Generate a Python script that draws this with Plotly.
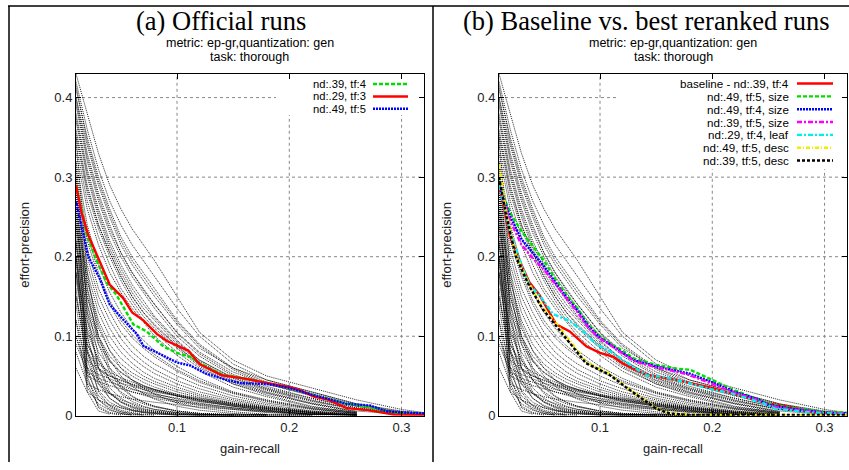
import plotly.graph_objects as go

W, H = 849, 470

# ---------------- data ----------------
x_ticks = [0.1, 0.2, 0.3]
x_tick_labels = ["0.1", "0.2", "0.3"]
y_ticks = [0, 0.1, 0.2, 0.3, 0.4]
y_tick_labels = ["0", "0.1", "0.2", "0.3", "0.4"]
x_range = [0.01, 0.32]
y_range = [0, 0.43]

# common gain-recall sampling points of the official (background) runs
recall_grid = [0.01, 0.02, 0.03, 0.04, 0.05, 0.06, 0.07, 0.08, 0.10, 0.12, 0.15, 0.18, 0.22, 0.26, 0.30, 0.32]

# effort-precision of the official runs
official_runs = [
    [0.43, 0.38, 0.33, 0.29, 0.26, 0.235, 0.215, 0.195, 0.15, 0.105, 0.07, 0.05, 0.035, 0.02, 0.008, 0.004],
    [0.42, 0.36, 0.31, 0.27, 0.24, 0.215, 0.195, 0.175, 0.135, 0.10, 0.065, 0.045, 0.03, 0.015, 0.006, 0.003],
    [0.415, 0.345, 0.295, 0.255, 0.22, 0.195, 0.175, 0.155, 0.118, 0.088, 0.058, 0.04, 0.026, 0.012, 0.004, 0.002],
    [0.41, 0.35, 0.30, 0.26, 0.225, 0.20, 0.18, 0.16, 0.12, 0.09, 0.06, 0.045, 0.03, 0.015, 0.005, 0.003],
    [0.40, 0.34, 0.29, 0.25, 0.215, 0.19, 0.17, 0.15, 0.115, 0.085, 0.06, 0.042, 0.028, 0.014, 0.004, 0.002],
    [0.40, 0.33, 0.28, 0.24, 0.205, 0.18, 0.16, 0.14, 0.105, 0.08, 0.055, 0.04, 0.025, 0.012, 0.004, 0.002],
    [0.395, 0.325, 0.275, 0.235, 0.205, 0.18, 0.158, 0.14, 0.104, 0.078, 0.052, 0.037, 0.022, 0.01, 0.003],
    [0.39, 0.32, 0.27, 0.23, 0.20, 0.175, 0.155, 0.135, 0.10, 0.075, 0.05, 0.035, 0.022, 0.01, 0.003, 0.002],
    [0.38, 0.31, 0.26, 0.22, 0.19, 0.165, 0.145, 0.125, 0.095, 0.07, 0.048, 0.034, 0.02, 0.008, 0.003, 0.002],
    [0.375, 0.305, 0.255, 0.215, 0.185, 0.16, 0.14, 0.123, 0.093, 0.07, 0.047, 0.033, 0.019, 0.008, 0.002],
    [0.37, 0.30, 0.25, 0.21, 0.18, 0.155, 0.135, 0.12, 0.09, 0.068, 0.045, 0.032, 0.018, 0.008, 0.003],
    [0.36, 0.29, 0.24, 0.205, 0.175, 0.15, 0.13, 0.115, 0.088, 0.065, 0.044, 0.03, 0.016, 0.006, 0.002],
    [0.355, 0.285, 0.24, 0.205, 0.175, 0.15, 0.13, 0.113, 0.087, 0.064, 0.042, 0.029, 0.015, 0.005],
    [0.35, 0.28, 0.235, 0.20, 0.17, 0.145, 0.125, 0.11, 0.085, 0.062, 0.04, 0.028, 0.015, 0.005],
    [0.34, 0.27, 0.225, 0.19, 0.16, 0.14, 0.12, 0.105, 0.08, 0.06, 0.04, 0.026, 0.012, 0.004],
    [0.33, 0.26, 0.215, 0.18, 0.155, 0.135, 0.118, 0.10, 0.076, 0.056, 0.036, 0.024, 0.011, 0.004],
    [0.32, 0.24, 0.19, 0.155, 0.13, 0.11, 0.095, 0.082, 0.062, 0.047, 0.03, 0.02, 0.01, 0.004],
    [0.31, 0.23, 0.18, 0.145, 0.12, 0.102, 0.088, 0.077, 0.058, 0.044, 0.029, 0.019, 0.009, 0.003],
    [0.30, 0.22, 0.175, 0.14, 0.115, 0.098, 0.085, 0.074, 0.056, 0.042, 0.028, 0.018, 0.009, 0.003],
    [0.29, 0.21, 0.16, 0.13, 0.105, 0.088, 0.075, 0.065, 0.05, 0.038, 0.025, 0.016, 0.008, 0.003],
    [0.28, 0.20, 0.15, 0.12, 0.097, 0.08, 0.068, 0.058, 0.044, 0.034, 0.022, 0.014, 0.006, 0.002],
    [0.27, 0.19, 0.14, 0.11, 0.088, 0.073, 0.062, 0.053, 0.04, 0.03, 0.02, 0.012, 0.005, 0.001],
    [0.26, 0.18, 0.13, 0.10, 0.08, 0.066, 0.055, 0.047, 0.036, 0.027, 0.018, 0.011, 0.004, 0.001],
    [0.25, 0.17, 0.12, 0.09, 0.072, 0.06, 0.05, 0.043, 0.033, 0.025, 0.016, 0.01, 0.004, 0.001],
    [0.24, 0.16, 0.11, 0.082, 0.065, 0.054, 0.046, 0.04, 0.03, 0.023, 0.015, 0.009, 0.003, 0.001],
    [0.23, 0.15, 0.10, 0.075, 0.06, 0.05, 0.042, 0.036, 0.027, 0.02, 0.013, 0.008, 0.003, 0.001],
    [0.22, 0.14, 0.095, 0.07, 0.055, 0.045, 0.038, 0.033, 0.025, 0.018, 0.012, 0.007, 0.002, 0.001],
    [0.215, 0.13, 0.09, 0.068, 0.054, 0.045, 0.038, 0.033, 0.025, 0.019, 0.012, 0.007, 0.002, 0.001],
    [0.20, 0.12, 0.08, 0.06, 0.047, 0.039, 0.033, 0.028, 0.021, 0.016, 0.01, 0.006, 0.002, 0.001],
    [0.19, 0.105, 0.07, 0.052, 0.041, 0.034, 0.029, 0.025, 0.019, 0.014, 0.009, 0.005, 0.002, 0.001],
    [0.17, 0.09, 0.06, 0.045, 0.036, 0.03, 0.026, 0.022, 0.017, 0.013, 0.008, 0.004, 0.001],
    [0.12, 0.06, 0.052, 0.046, 0.041, 0.037, 0.033, 0.03, 0.025, 0.02, 0.014, 0.009, 0.004, 0.001],
    [0.15, 0.07, 0.058, 0.05, 0.045, 0.04, 0.036, 0.032, 0.026, 0.021, 0.015, 0.010, 0.005, 0.002],
    [0.10, 0.05, 0.043, 0.038, 0.034, 0.03, 0.027, 0.024, 0.019, 0.015, 0.01, 0.006, 0.002, 0.001],
    [0.20, 0.09, 0.065, 0.055, 0.048, 0.042, 0.037, 0.033, 0.027, 0.022, 0.016, 0.011, 0.006, 0.002],
    [0.08, 0.04, 0.033, 0.028, 0.024, 0.021, 0.019, 0.017, 0.014, 0.011, 0.008, 0.005, 0.002, 0.001],
    [0.09, 0.055, 0.047, 0.042, 0.037, 0.033, 0.03, 0.027, 0.022, 0.018, 0.013, 0.008, 0.004, 0.001],
    [0.18, 0.08, 0.06, 0.05, 0.044, 0.039, 0.035, 0.031, 0.025, 0.02, 0.014, 0.009, 0.004, 0.001],
    [0.35, 0.18, 0.10, 0.06, 0.038, 0.025, 0.017, 0.012, 0.006, 0.003, 0.002, 0.001, 0.001],
    [0.30, 0.16, 0.09, 0.055, 0.035, 0.024, 0.017, 0.012, 0.006, 0.003, 0.001, 0.001, 0.001],
    [0.32, 0.13, 0.06, 0.03, 0.017, 0.01, 0.006, 0.004, 0.002, 0.001, 0.001, 0.001],
    [0.28, 0.14, 0.075, 0.045, 0.028, 0.018, 0.012, 0.008, 0.004, 0.002, 0.001, 0.001, 0.001, 0.001],
    [0.27, 0.10, 0.045, 0.022, 0.012, 0.007, 0.004, 0.003, 0.001, 0.001, 0.001],
    [0.25, 0.12, 0.06, 0.035, 0.022, 0.014, 0.009, 0.006, 0.003, 0.001, 0.001, 0.001],
    [0.22, 0.10, 0.05, 0.028, 0.017, 0.011, 0.007, 0.005, 0.002, 0.001, 0.001],
    [0.20, 0.085, 0.04, 0.022, 0.013, 0.008, 0.005, 0.003, 0.001, 0.001],
    [0.18, 0.07, 0.032, 0.017, 0.01, 0.006, 0.004, 0.002, 0.001],
    [0.16, 0.055, 0.025, 0.013, 0.007, 0.004, 0.002, 0.001],
    [0.14, 0.045, 0.02, 0.01, 0.005, 0.003, 0.001],
    [0.26, 0.08, 0.03, 0.012, 0.005, 0.002, 0.001],
    [0.24, 0.06, 0.02, 0.008, 0.003, 0.001, 0.001, 0.001],
    [0.12, 0.035, 0.015, 0.007, 0.003, 0.001],
    [0.30, 0.05, 0.01, 0.003, 0.001],
    [0.22, 0.03, 0.006, 0.002],
    [0.20, 0.04, 0.012, 0.004, 0.002, 0.001],
    [0.18, 0.11, 0.07, 0.045, 0.03, 0.021, 0.015, 0.011, 0.006, 0.003, 0.001, 0.001],
    [0.24, 0.15, 0.10, 0.07, 0.05, 0.037, 0.028, 0.021, 0.012, 0.007, 0.003, 0.001],
    [0.26, 0.17, 0.115, 0.082, 0.06, 0.045, 0.035, 0.027, 0.016, 0.01, 0.005, 0.002],
    [0.15, 0.08, 0.045, 0.028, 0.018, 0.012, 0.008, 0.006, 0.003, 0.001, 0.001, 0.001, 0.001],
    [0.10, 0.06, 0.04, 0.028, 0.02, 0.015, 0.011, 0.008, 0.004, 0.002, 0.001, 0.001],
    [0.06, 0.03, 0.02, 0.014, 0.01, 0.007, 0.005, 0.004, 0.002, 0.001, 0.001],
]

# highlighted runs
nd39_tf4_x = [0.01, 0.02, 0.03, 0.037, 0.046, 0.055, 0.061, 0.073, 0.088, 0.10, 0.112, 0.12, 0.14, 0.168, 0.20, 0.227, 0.248, 0.27, 0.29, 0.32]
nd39_tf4_y = [0.29, 0.225, 0.19, 0.168, 0.152, 0.13, 0.115, 0.106, 0.087, 0.079, 0.074, 0.066, 0.052, 0.045, 0.035, 0.024, 0.016, 0.011, 0.004, 0.002]

nd29_tf3_x = [0.01, 0.015, 0.021, 0.031, 0.040, 0.052, 0.06, 0.07, 0.082, 0.091, 0.103, 0.11, 0.12, 0.14, 0.159, 0.18, 0.20, 0.21, 0.222, 0.235, 0.251, 0.269, 0.293, 0.32]
nd29_tf3_y = [0.29, 0.255, 0.227, 0.194, 0.165, 0.148, 0.13, 0.12, 0.103, 0.094, 0.086, 0.082, 0.065, 0.051, 0.047, 0.041, 0.036, 0.032, 0.024, 0.020, 0.0096, 0.0075, 0.0016, 0.001]

nd49_tf5_x = [0.01, 0.021, 0.031, 0.040, 0.052, 0.064, 0.070, 0.085, 0.10, 0.112, 0.126, 0.144, 0.157, 0.18, 0.20, 0.219, 0.251, 0.272, 0.287, 0.32]
nd49_tf5_y = [0.27, 0.20, 0.173, 0.14, 0.121, 0.103, 0.088, 0.078, 0.067, 0.063, 0.053, 0.045, 0.041, 0.040, 0.035, 0.027, 0.015, 0.013, 0.0055, 0.003]

size_x = [0.01, 0.02, 0.03, 0.04, 0.05, 0.06, 0.07, 0.08, 0.09, 0.10, 0.11, 0.12, 0.13, 0.15, 0.17, 0.18, 0.20, 0.22, 0.24, 0.25, 0.27, 0.30, 0.32]
nd49_tf5_size_y = [0.29, 0.255, 0.232, 0.213, 0.195, 0.172, 0.152, 0.135, 0.114, 0.10, 0.09, 0.082, 0.072, 0.064, 0.059, 0.058, 0.045, 0.032, 0.021, 0.015, 0.01, 0.005, 0.004]
nd49_tf4_size_y = [0.29, 0.25, 0.222, 0.205, 0.188, 0.168, 0.149, 0.132, 0.112, 0.098, 0.089, 0.08, 0.07, 0.062, 0.056, 0.053, 0.042, 0.03, 0.021, 0.014, 0.009, 0.004, 0.003]
nd39_tf5_size_y = [0.29, 0.245, 0.215, 0.198, 0.184, 0.166, 0.147, 0.13, 0.11, 0.097, 0.088, 0.079, 0.069, 0.061, 0.055, 0.051, 0.04, 0.029, 0.02, 0.013, 0.008, 0.004, 0.003]

nd29_tf4_leaf_x = [0.01, 0.02, 0.03, 0.037, 0.048, 0.058, 0.073, 0.0845, 0.0964, 0.108, 0.126, 0.141, 0.156, 0.174, 0.20, 0.215, 0.244, 0.256, 0.289, 0.32]
nd29_tf4_leaf_y = [0.29, 0.23, 0.19, 0.165, 0.148, 0.128, 0.119, 0.107, 0.09, 0.082, 0.065, 0.051, 0.049, 0.043, 0.033, 0.029, 0.0165, 0.009, 0.004, 0.002]

desc_x = [0.01, 0.016, 0.025, 0.037, 0.049, 0.064, 0.0756, 0.0875, 0.0964, 0.108, 0.123, 0.138, 0.15, 0.162, 0.18, 0.22, 0.26, 0.32]
nd49_tf5_desc_y = [0.316, 0.26, 0.202, 0.165, 0.136, 0.111, 0.09, 0.0675, 0.0613, 0.053, 0.0365, 0.022, 0.0096, 0.003, 0.001, 0.001, 0.001, 0.001]
nd39_tf5_desc_y = [0.30, 0.255, 0.20, 0.163, 0.134, 0.108, 0.088, 0.066, 0.06, 0.052, 0.036, 0.021, 0.009, 0.003, 0.001, 0.001, 0.001, 0.001]

left_series = [
    ("nd:.39, tf:4", nd39_tf4_x, nd39_tf4_y, "#00dd00", "4px,2px"),
    ("nd:.29, tf:3", nd29_tf3_x, nd29_tf3_y, "#ff0000", "solid"),
    ("nd:.49, tf:5", nd49_tf5_x, nd49_tf5_y, "#0000ff", "2px,1px"),
]
right_series = [
    ("baseline - nd:.39, tf:4", nd39_tf4_x, nd39_tf4_y, "#ff0000", "solid"),
    ("nd:.49, tf:5, size", size_x, nd49_tf5_size_y, "#00dd00", "4px,2px"),
    ("nd:.49, tf:4, size", size_x, nd49_tf4_size_y, "#0000ff", "2px,1px"),
    ("nd:.39, tf:5, size", size_x, nd39_tf5_size_y, "#ff00ff", "5px,2px,2px,2px"),
    ("nd:.29, tf:4, leaf", nd29_tf4_leaf_x, nd29_tf4_leaf_y, "#00eeee", "5px,2px,2px,2px"),
    ("nd:.49, tf:5, desc", desc_x, nd49_tf5_desc_y, "#eeee00", "4px,2px,1px,2px"),
    ("nd:.39, tf:5, desc", desc_x, nd39_tf5_desc_y, "#000000", "3px,2px"),
]

# ---------------- figure ----------------
def px(x):
    return x / W

def py(y):
    return 1 - y / H

PLOT_L = [76, 424]
PLOT_R = [499, 847]
PLOT_T, PLOT_B = 75, 423

def data_x(pix, lim):
    return x_range[0] + (pix - lim[0]) / (lim[1] - lim[0]) * (x_range[1] - x_range[0])

def data_y(pix):
    return y_range[0] + (PLOT_B - pix) / (PLOT_B - PLOT_T) * (y_range[1] - y_range[0])

fig = go.Figure()

panels = [
    dict(xa="x", ya="y", series=left_series, lim=PLOT_L, key_box=(276, 415, 117)),
    dict(xa="x2", ya="y2", series=right_series, lim=PLOT_R, key_box=(616, 840, 172)),
]

for p in panels:
    for run in official_runs:
        fig.add_trace(go.Scatter(
            x=recall_grid[:len(run)], y=run, mode="lines",
            line=dict(color="rgba(0,0,0,0.85)", width=1, dash="1px,1px"),
            xaxis=p["xa"], yaxis=p["ya"], showlegend=False, hoverinfo="skip"))
    for name, xs, ys, col, dash in p["series"]:
        fig.add_trace(go.Scatter(
            x=xs, y=ys, mode="lines", name=name,
            line=dict(color=col, width=2.4, dash=dash),
            xaxis=p["xa"], yaxis=p["ya"], showlegend=False, hoverinfo="skip"))

sans = "Liberation Sans, Arial, sans-serif"
serif = "Liberation Serif, Times New Roman, serif"
tickfont = dict(family=sans, size=13, color="#222")
axis_common = dict(
    showgrid=False, zeroline=False, showline=True, linecolor="black", linewidth=1, mirror="ticks",
    ticks="inside", ticklen=5, tickcolor="black", tickfont=tickfont,
)

fig.update_layout(
    width=W, height=H,
    margin=dict(l=0, r=0, t=0, b=0),
    paper_bgcolor="white", plot_bgcolor="white",
    showlegend=False, hovermode=False,
    xaxis=dict(domain=[px(PLOT_L[0]), px(PLOT_L[1])], range=x_range, tickvals=x_ticks, ticktext=x_tick_labels, anchor="y", **axis_common),
    yaxis=dict(domain=[py(PLOT_B), py(PLOT_T)], range=y_range, tickvals=y_ticks, ticktext=y_tick_labels, anchor="x", **axis_common),
    xaxis2=dict(domain=[px(PLOT_R[0]), px(PLOT_R[1])], range=x_range, tickvals=x_ticks, ticktext=x_tick_labels, anchor="y2", **axis_common),
    yaxis2=dict(domain=[py(PLOT_B), py(PLOT_T)], range=y_range, tickvals=y_ticks, ticktext=y_tick_labels, anchor="x2", **axis_common),
)

shapes = []
annotations = []

# outer frames
for (x0, y0, x1, y1) in [(8, 6, 849, 6), (9, 6, 9, 470), (433, 6, 433, 470)]:
    shapes.append(dict(type="line", xref="paper", yref="paper", x0=px(x0), y0=py(y0), x1=px(x1), y1=py(y1),
                       line=dict(color="black", width=1.5)))

# grid lines at the ticks, not drawn through the key (like gnuplot)
grid_line = dict(color="#888", width=1, dash="dot")
for p in panels:
    kx0, kx1, kbot = p["key_box"]
    key_x0 = data_x(kx0, p["lim"])
    key_x1 = data_x(kx1, p["lim"])
    key_y0 = data_y(kbot)
    for xv in x_ticks:
        top = key_y0 if key_x0 <= xv <= key_x1 else y_range[1]
        shapes.append(dict(type="line", xref=p["xa"], yref=p["ya"], x0=xv, x1=xv, y0=y_range[0], y1=top,
                           line=grid_line, layer="below"))
    for yv in y_ticks[1:]:
        right = key_x0 if yv >= key_y0 else x_range[1]
        shapes.append(dict(type="line", xref=p["xa"], yref=p["ya"], x0=x_range[0], x1=right, y0=yv, y1=yv,
                           line=grid_line, layer="below"))

panel_text = [
    dict(title="(a) Official runs", tx=221, cx=250, ylab_x=25),
    dict(title="(b) Baseline vs. best reranked runs", tx=646, cx=673, ylab_x=447),
]
for t in panel_text:
    annotations.append(dict(text=t["title"], x=px(t["tx"]), y=py(21), xref="paper", yref="paper",
                            showarrow=False, xanchor="center", yanchor="middle",
                            font=dict(family=serif, size=26.5, color="black")))
    annotations.append(dict(text="metric: ep-gr,quantization: gen", x=px(t["cx"]), y=py(44), xref="paper", yref="paper",
                            showarrow=False, xanchor="center", yanchor="middle",
                            font=dict(family=sans, size=12.5, color="black")))
    annotations.append(dict(text="task: thorough", x=px(t["cx"]), y=py(57.5), xref="paper", yref="paper",
                            showarrow=False, xanchor="center", yanchor="middle",
                            font=dict(family=sans, size=12.5, color="black")))
    annotations.append(dict(text="effort-precision", x=px(t["ylab_x"]), y=py(249), xref="paper", yref="paper",
                            showarrow=False, xanchor="center", yanchor="middle", textangle=-90,
                            font=dict(family=sans, size=13, color="#222")))
    annotations.append(dict(text="gain-recall", x=px(t["cx"]), y=py(456), xref="paper", yref="paper",
                            showarrow=False, xanchor="center", yanchor="middle",
                            font=dict(family=sans, size=13, color="#222")))

# keys (text right-aligned, sample to the right, as in gnuplot)
keys = [
    dict(series=left_series, text_right=367, s0=373, s1=408, y0=85.5, dy=12.6, fs=11.2),
    dict(series=right_series, text_right=790, s0=797, s1=833, y0=85, dy=13.05, fs=11.6),
]
for k in keys:
    for i, (name, xs, ys, col, dash) in enumerate(k["series"]):
        yy = k["y0"] + i * k["dy"]
        annotations.append(dict(text=name, x=px(k["text_right"]), y=py(yy), xref="paper", yref="paper",
                                showarrow=False, xanchor="right", yanchor="middle", borderpad=0,
                                font=dict(family=sans, size=k["fs"], color="black")))
        shapes.append(dict(type="line", xref="paper", yref="paper", x0=px(k["s0"]), x1=px(k["s1"]),
                           y0=py(yy), y1=py(yy), line=dict(color=col, width=2.4, dash=dash)))

fig.update_layout(shapes=shapes, annotations=annotations)
fig.write_html("out.html", config={"displayModeBar": False, "staticPlot": True},
               post_script="document.body.style.margin='0';")
